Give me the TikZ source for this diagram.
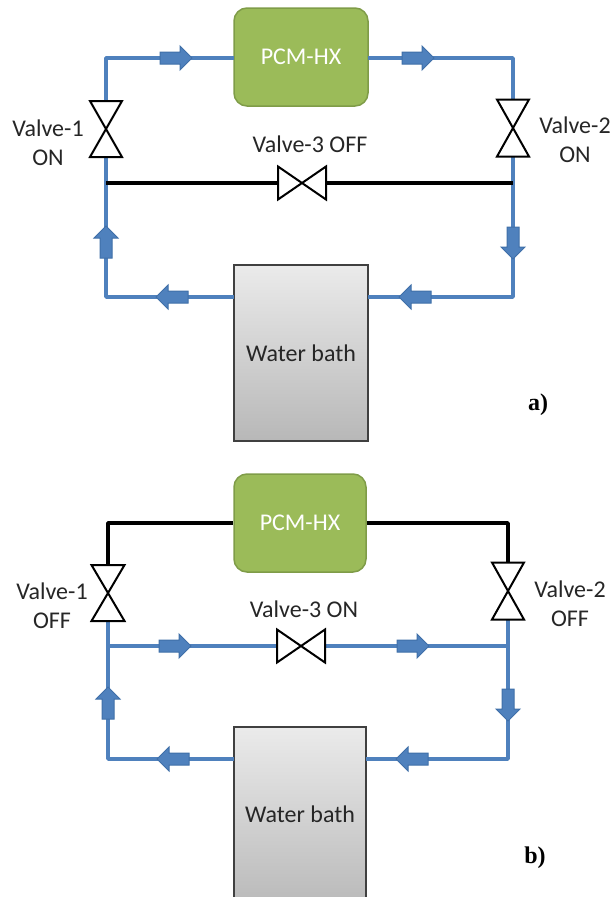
\documentclass[tikz,border=0pt]{standalone}
\usepackage{fontspec}
\setmainfont{Carlito}
\newfontfamily\tnrfont{Liberation Serif}
\usetikzlibrary{shapes.arrows}
\definecolor{pipeblue}{HTML}{4F81BD}
\definecolor{arrowedge}{HTML}{3F6FA8}
\definecolor{pcmgreen}{HTML}{9BBB59}
\definecolor{pcmedge}{HTML}{7F9C48}
\tikzset{
  pipeon/.style={draw=pipeblue,line width=3.4pt,line join=round},
  pipeoff/.style={draw=black,line width=3.6pt,line join=round},
  pcmbox/.style={draw=pcmedge,line width=1.5pt,fill=pcmgreen,rounded corners=13pt,minimum height=98pt,
    text=white,font=\fontsize{24}{26}\selectfont,inner sep=0pt},
  bathbox/.style={draw=black!75,line width=1.2pt,top color=black!8,bottom color=black!28,
    font=\fontsize{24}{26}\selectfont,text=black!85,inner sep=0pt},
  valvebox/.style={minimum width=#1,inner sep=0pt,outer sep=0pt},
  valveline/.style={draw=black,line width=2pt,fill=white,line join=miter},
  flowarrow/.style={single arrow,draw=arrowedge,line width=1pt,fill=pipeblue,inner xsep=0pt,inner ysep=5.5pt,
    minimum height=32pt,single arrow head extend=6pt,single arrow head indent=0pt},
  lbl/.style={align=center,font=\fontsize{24}{29}\selectfont,text=black!85,inner sep=0pt},
  tag/.style={font=\tnrfont\bfseries\fontsize{24}{26}\selectfont,inner sep=0pt}
}
\begin{document}
\begin{tikzpicture}[x=1pt,y=-1pt]
  \useasboundingbox (0,0) rectangle (613,897);
  \clip (0,0) rectangle (613,897);
  % panel a
  \node[pcmbox,minimum width=134pt] (pcmA) at (301,57) {PCM-HX};
  \node[bathbox,minimum width=134pt,minimum height=176pt] (bathA) at (301,353) {Water bath};
  \node[valvebox=32pt,minimum height=56pt] (valveAa) at (106,129) {};
  \node[valvebox=32pt,minimum height=57pt] (valveAb) at (513,128) {};
  \node[valvebox=48pt,minimum height=33pt] (valveAc) at (302,183) {};
  \coordinate (jointAa) at (106,183);
  \coordinate (jointAb) at (513,183);
  \coordinate (cornerAa) at (106,58);
  \coordinate (cornerAb) at (513,58);
  \coordinate (cornerAc) at (513,297);
  \coordinate (cornerAd) at (106,297);
  \coordinate (portAa) at (234,58);
  \coordinate (portAb) at (368,58);
  \coordinate (portAc) at (368,297);
  \coordinate (portAd) at (234,297);
  \draw[pipeon] (valveAa.north) -- (cornerAa) -- (portAa);
  \draw[pipeon] (portAb) -- (cornerAb) -- (valveAb.north);
  \draw[pipeon] (valveAb.south) -- (cornerAc) -- (portAc);
  \draw[pipeon] (portAd) -- (cornerAd) -- (valveAa.south);
  \draw[pipeoff] (jointAa) -- (valveAc.west);
  \draw[pipeoff] (valveAc.east) -- (jointAb);
  \draw[valveline] (valveAa.north west) -- (valveAa.north east) -- (valveAa.south west) -- (valveAa.south east) -- cycle;
  \draw[valveline] (valveAb.north west) -- (valveAb.north east) -- (valveAb.south west) -- (valveAb.south east) -- cycle;
  \draw[valveline] (valveAc.north west) -- (valveAc.south west) -- (valveAc.north east) -- (valveAc.south east) -- cycle;
  \node[flowarrow] (flowAa) at (173,58) {};
  \node[flowarrow] (flowAb) at (415,58) {};
  \node[flowarrow,rotate=-90] (flowAc) at (513,240) {};
  \node[flowarrow,rotate=180] (flowAd) at (418,297) {};
  \node[flowarrow,rotate=180] (flowAe) at (175,297) {};
  \node[flowarrow,rotate=90] (flowAf) at (106,245) {};
  \node[lbl] (lblAa) at (48,143) {Valve-1\\ON};
  \node[lbl] (lblAb) at (575,140) {Valve-2\\ON};
  \node[lbl] (lblAc) at (310,144) {Valve-3 OFF};
  \node[tag] (tagA) at (538,405) {a)};
  % panel b
  \node[pcmbox,minimum width=132pt] (pcmB) at (300,523) {PCM-HX};
  \node[bathbox,minimum width=132pt,minimum height=186pt] (bathB) at (300,820) {};
  \node[lbl] (bathtextB) at (300,814) {Water bath};
  \node[valvebox=33pt,minimum height=56pt] (valveBa) at (108,593) {};
  \node[valvebox=32pt,minimum height=57pt] (valveBb) at (508,591) {};
  \node[valvebox=48pt,minimum height=33pt] (valveBc) at (301,646) {};
  \coordinate (jointBa) at (108,646);
  \coordinate (jointBb) at (508,646);
  \coordinate (cornerBa) at (108,523);
  \coordinate (cornerBb) at (508,523);
  \coordinate (cornerBc) at (508,759);
  \coordinate (cornerBd) at (108,759);
  \coordinate (portBc) at (366,759);
  \coordinate (portBd) at (234,759);
  \draw[pipeoff] (valveBa.north) -- (cornerBa) -- (pcmB.west);
  \draw[pipeoff] (pcmB.east) -- (cornerBb) -- (valveBb.north);
  \draw[pipeon] (valveBb.south) -- (cornerBc) -- (portBc);
  \draw[pipeon] (portBd) -- (cornerBd) -- (valveBa.south);
  \draw[pipeon] (jointBa) -- (valveBc.west);
  \draw[pipeon] (valveBc.east) -- (jointBb);
  \draw[valveline] (valveBa.north west) -- (valveBa.north east) -- (valveBa.south west) -- (valveBa.south east) -- cycle;
  \draw[valveline] (valveBb.north west) -- (valveBb.north east) -- (valveBb.south west) -- (valveBb.south east) -- cycle;
  \draw[valveline] (valveBc.north west) -- (valveBc.south west) -- (valveBc.north east) -- (valveBc.south east) -- cycle;
  \node[flowarrow] (flowBa) at (172,646) {};
  \node[flowarrow] (flowBb) at (410,646) {};
  \node[flowarrow,rotate=-90] (flowBc) at (508,702) {};
  \node[flowarrow,rotate=180] (flowBd) at (415,759) {};
  \node[flowarrow,rotate=180] (flowBe) at (176,759) {};
  \node[flowarrow,rotate=90] (flowBf) at (108,706) {};
  \node[lbl] (lblBa) at (52,606) {Valve-1\\OFF};
  \node[lbl] (lblBb) at (570,604) {Valve-2\\OFF};
  \node[lbl] (lblBc) at (304,609) {Valve-3 ON};
  \node[tag] (tagB) at (535,858) {b)};
\end{tikzpicture}
\end{document}
